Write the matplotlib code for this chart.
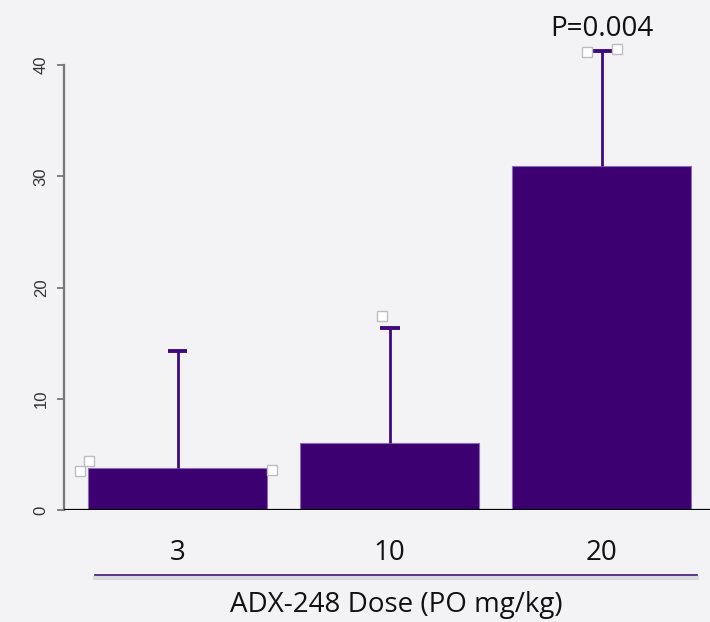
import numpy as np
import matplotlib.pyplot as plt
from matplotlib.lines import Line2D

doses = ["3", "10", "20"]
means = [3.8, 6.0, 30.9]
err_upper = [10.5, 10.35, 10.4]
points = [[3.5, 4.4, 3.6], [17.4], [41.2, 41.4]]
point_dx = [[-0.46, -0.417, 0.446], [-0.038], [-0.07, 0.07]]
p_label = "P=0.004"

bg = "#f3f3f6"
purple = "#3d0070"

fig = plt.figure(figsize=(7.1, 6.22), dpi=100, facecolor=bg)
ax = fig.add_axes([64 / 710, 112 / 622, 1 - 64 / 710, 510 / 622])
ax.set_facecolor(bg)

x = np.arange(len(doses))
means = np.array(means)
tops = means + np.array(err_upper)
ax.bar(x, means, width=0.845, color=purple, edgecolor="#8a6cb8", linewidth=0.8, zorder=2)
# upper error bars only
ax.vlines(x, means, tops, color="#3f0a80", lw=2, zorder=3)
ax.hlines(tops, x - 0.047, x + 0.047, color="#3f0a80", lw=2.8, zorder=3)

for i, vals in enumerate(points):
    ax.plot(x[i] + np.array(point_dx[i]), vals, "s", ms=7.5, mfc="white",
            mec="#bdbdbd", mew=1, zorder=4, clip_on=False)

ax.axhline(0, color="black", lw=1.6, zorder=5)
ax.text(x[2], 43.2, p_label, ha="center", va="center", fontsize=20,
        family="Open Sans", color="#111111")

ax.set_xlim(-0.535, 2.51)
ax.set_ylim(0, 510 / 11.125)
for s in ["top", "right", "bottom"]:
    ax.spines[s].set_visible(False)
ax.spines["left"].set_bounds(0, 40)
ax.spines["left"].set_color("#777777")
ax.spines["left"].set_linewidth(1.6)
ax.set_yticks([0, 10, 20, 30, 40])
ax.tick_params(axis="y", length=5, width=1.3, color="#777777", labelsize=12,
               labelcolor="#333333", pad=6)
for lab in ax.get_yticklabels():
    lab.set_rotation(90)
    lab.set_va("center")
    lab.set_family("Liberation Sans")
ax.set_xticks([])

for i, d in enumerate(doses):
    ax.text(x[i], -3.85, d, ha="center", va="center", fontsize=20,
            family="Open Sans", color="#111111", clip_on=False)

fig.add_artist(Line2D([95 / 710, 697 / 710], [1 - 578 / 622] * 2, color="#d9d9de", lw=3))
fig.add_artist(Line2D([95 / 710, 697 / 710], [1 - 575 / 622] * 2, color="#4a2a82", lw=1.3))
fig.text((95 + 697) / 2 / 710, 1 - 605 / 622, "ADX-248 Dose (PO mg/kg)", ha="center",
         va="center", fontsize=20, family="Open Sans", color="#111111")

fig.savefig("out.png", dpi=100, facecolor=bg)
